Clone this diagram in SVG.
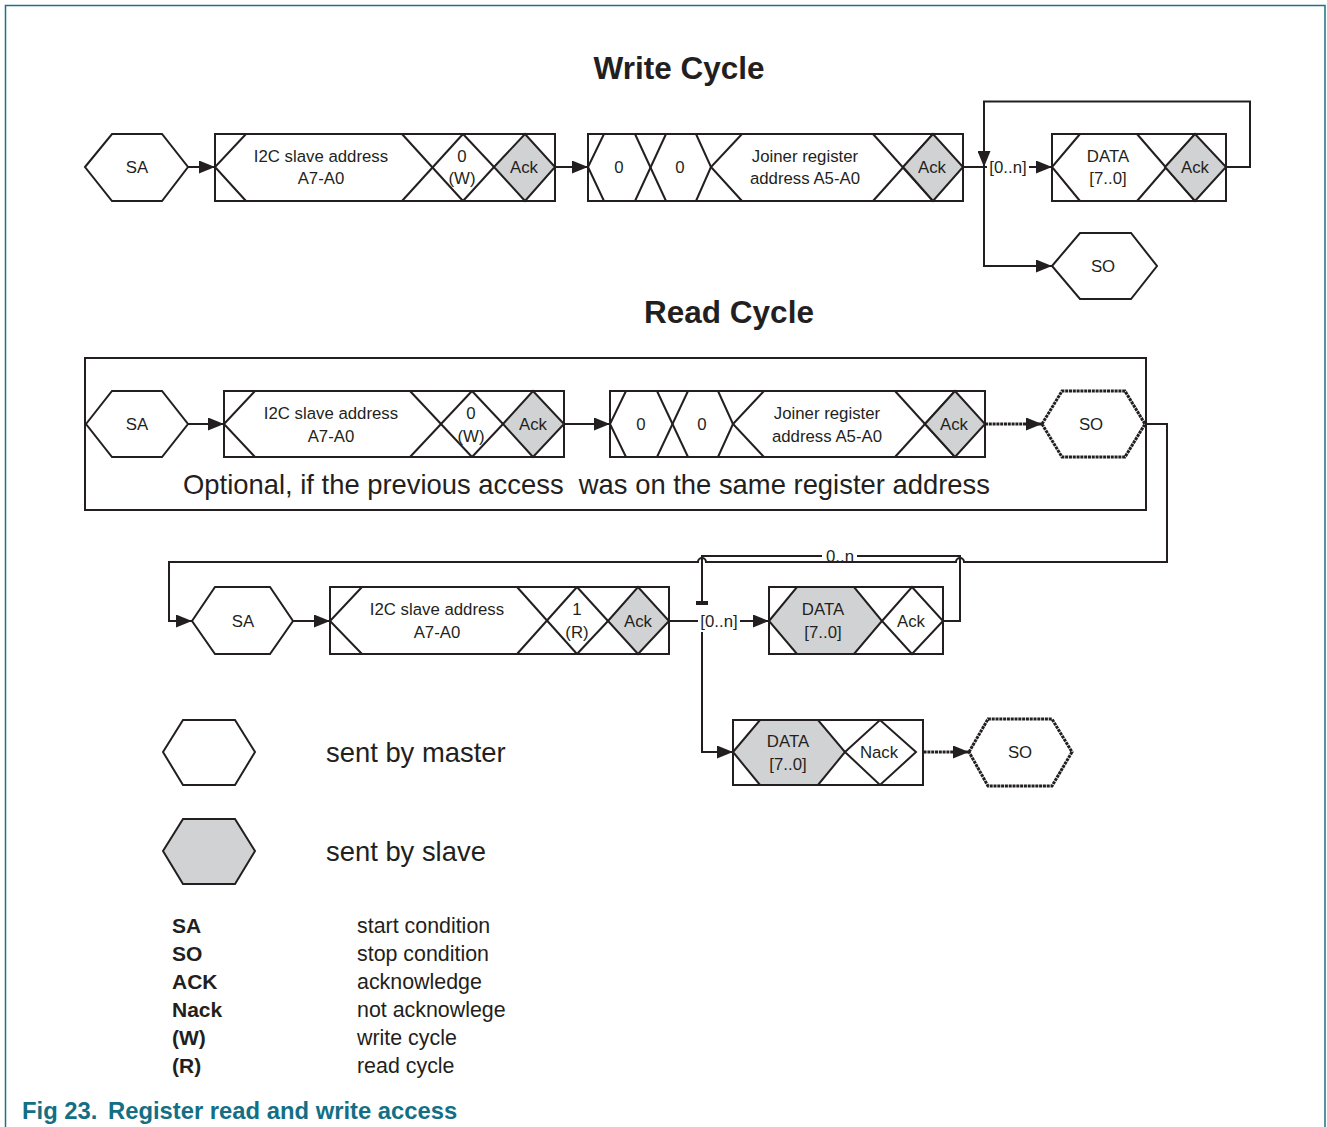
<svg xmlns="http://www.w3.org/2000/svg" width="1327" height="1127" viewBox="0 0 1327 1127">
<style>
text{font-family:"Liberation Sans",Arial,sans-serif;fill:#231f20}
.t{font-size:16.8px;text-anchor:middle}
.ttl{font-size:31.5px;font-weight:bold;text-anchor:middle}
.big{font-size:27.4px;white-space:pre}
.lg{font-size:21.4px}
.lgb{font-size:21px;font-weight:bold}
.cap{font-size:23.8px;font-weight:bold;fill:#126f85}
.box{fill:#fff;stroke:#231f20;stroke-width:2}
.ln{fill:none;stroke:#231f20;stroke-width:2}
.gr{fill:#d1d2d4;stroke:#231f20;stroke-width:2}
.wh{fill:#fff;stroke:#231f20;stroke-width:2}
.dot{fill:#fff;stroke:#231f20;stroke-width:3;stroke-dasharray:3 0.8}
.dl{fill:none;stroke:#231f20;stroke-width:3;stroke-dasharray:3 0.8}
.c{fill:none;stroke:#231f20;stroke-width:2}
</style>
<defs>
<marker id="ah" markerUnits="userSpaceOnUse" markerWidth="16" markerHeight="13" refX="16" refY="6.5" orient="auto"><path d="M0,0 L16,6.5 L0,13 z" fill="#231f20"/></marker>
</defs>
<rect x="0" y="0" width="1327" height="1127" fill="#fff"/>
<path d="M5.5,1127 V5.5 H1325 V1127" fill="none" stroke="#1f7184" stroke-width="1.5"/>

<text class="ttl" x="679" y="79">Write Cycle</text>
<text class="ttl" x="729" y="323">Read Cycle</text>

<g id="connectors">
<line class="c" x1="188" y1="167" x2="215" y2="167" marker-end="url(#ah)"/>
<line class="c" x1="555" y1="167" x2="588" y2="167" marker-end="url(#ah)"/>
<line class="c" x1="963" y1="167" x2="987" y2="167"/>
<line class="c" x1="1029" y1="167" x2="1052" y2="167" marker-end="url(#ah)"/>
<polyline class="c" points="1226,167 1250,167 1250,101.5 984,101.5 984,167" marker-end="url(#ah)"/>
<polyline class="c" points="984,167 984,266 1052,266" marker-end="url(#ah)"/>
<text class="t" x="1008" y="173">[0..n]</text>

<line class="c" x1="188" y1="424" x2="224" y2="424" marker-end="url(#ah)"/>
<line class="c" x1="564" y1="424" x2="610" y2="424" marker-end="url(#ah)"/>
<line class="dl" x1="985" y1="424" x2="1042" y2="424" marker-end="url(#ah)"/>
<path class="c" d="M1145,424 H1167 V562 H964 A4,4 0 0 0 956,562 H706 A4,4 0 0 0 698,562 H169 V621 H192" marker-end="url(#ah)"/>

<line class="c" x1="293" y1="621" x2="330" y2="621" marker-end="url(#ah)"/>
<line class="c" x1="669" y1="621" x2="698" y2="621"/>
<line class="c" x1="740" y1="621" x2="769" y2="621" marker-end="url(#ah)"/>
<text class="t" x="719" y="627">[0..n]</text>
<path class="c" d="M943,621 H960 V556 H857 M822,556 H702 V602"/>
<rect x="696" y="601" width="12" height="4" fill="#231f20"/>
<text class="t" x="840" y="562">0..n</text>
<polyline class="c" points="702,632 702,752 733,752" marker-end="url(#ah)"/>
<line class="dl" x1="916" y1="752" x2="969" y2="752" marker-end="url(#ah)"/>
</g>

<g id="w-sa">
<polygon class="wh" points="85,167 112,134 162,134 188,167 162,201 112,201"/>
<text class="t" x="137" y="173">SA</text>
</g>
<g id="w-addr">
<rect class="box" x="215" y="134" width="340" height="67"/>
<polyline class="ln" points="246,134 215,167 246,201"/>
<line class="ln" x1="402" y1="134" x2="463" y2="201"/>
<line class="ln" x1="402" y1="201" x2="463" y2="134"/>
<line class="ln" x1="463" y1="134" x2="494" y2="167"/>
<line class="ln" x1="463" y1="201" x2="494" y2="167"/>
<polygon class="gr" points="494,167 525,134 555,167 525,201"/>
<text class="t" x="321" y="162">I2C slave address</text>
<text class="t" x="321" y="184">A7-A0</text>
<text class="t" x="462" y="162">0</text>
<text class="t" x="462" y="184">(W)</text>
<text class="t" x="524" y="173">Ack</text>
</g>
<g id="w-reg">
<rect class="box" x="588" y="134" width="375" height="67"/>
<polyline class="ln" points="604,134 588,167 604,201"/>
<line class="ln" x1="635" y1="134" x2="666" y2="201"/>
<line class="ln" x1="635" y1="201" x2="666" y2="134"/>
<polyline class="ln" points="696,134 711,167 696,201"/>
<polyline class="ln" points="742,134 711,167 742,201"/>
<line class="ln" x1="873" y1="134" x2="933" y2="201"/>
<line class="ln" x1="873" y1="201" x2="933" y2="134"/>
<polygon class="gr" points="903,167 933,134 963,167 933,201"/>
<text class="t" x="619" y="173">0</text>
<text class="t" x="680" y="173">0</text>
<text class="t" x="805" y="162">Joiner register</text>
<text class="t" x="805" y="184">address A5-A0</text>
<text class="t" x="932" y="173">Ack</text>
</g>
<g id="w-data">
<rect class="box" x="1052" y="134" width="174" height="67"/>
<polyline class="ln" points="1080,134 1052,167 1080,201"/>
<line class="ln" x1="1137" y1="134" x2="1195" y2="201"/>
<line class="ln" x1="1137" y1="201" x2="1195" y2="134"/>
<polygon class="gr" points="1165,167 1195,134 1226,167 1195,201"/>
<text class="t" x="1108" y="162">DATA</text>
<text class="t" x="1108" y="184">[7..0]</text>
<text class="t" x="1195" y="173">Ack</text>
</g>
<g id="w-so">
<polygon class="wh" points="1052,266 1080,233 1131,233 1157,266 1131,299 1080,299"/>
<text class="t" x="1103" y="272">SO</text>
</g>

<g id="r-optional">
<rect x="85" y="358" width="1061" height="152" fill="none" stroke="#231f20" stroke-width="2"/>
<text class="big" x="183" y="494" xml:space="preserve">Optional, if the previous access  was on the same register address</text>
</g>
<g id="r-sa1">
<polygon class="wh" points="86,424 112,391 162,391 188,424 162,457 112,457"/>
<text class="t" x="137" y="430">SA</text>
</g>
<g id="r-addr1">
<rect class="box" x="224" y="391" width="340" height="66"/>
<polyline class="ln" points="255,391 224,424 255,457"/>
<line class="ln" x1="410" y1="391" x2="472" y2="457"/>
<line class="ln" x1="410" y1="457" x2="472" y2="391"/>
<line class="ln" x1="472" y1="391" x2="503" y2="424"/>
<line class="ln" x1="472" y1="457" x2="503" y2="424"/>
<polygon class="gr" points="503,424 533,391 564,424 533,457"/>
<text class="t" x="331" y="419">I2C slave address</text>
<text class="t" x="331" y="442">A7-A0</text>
<text class="t" x="471" y="419">0</text>
<text class="t" x="471" y="442">(W)</text>
<text class="t" x="533" y="430">Ack</text>
</g>
<g id="r-reg">
<rect class="box" x="610" y="391" width="375" height="66"/>
<polyline class="ln" points="626,391 610,424 626,457"/>
<line class="ln" x1="657" y1="391" x2="688" y2="457"/>
<line class="ln" x1="657" y1="457" x2="688" y2="391"/>
<polyline class="ln" points="718,391 733,424 718,457"/>
<polyline class="ln" points="764,391 733,424 764,457"/>
<line class="ln" x1="895" y1="391" x2="955" y2="457"/>
<line class="ln" x1="895" y1="457" x2="955" y2="391"/>
<polygon class="gr" points="925,424 955,391 985,424 955,457"/>
<text class="t" x="641" y="430">0</text>
<text class="t" x="702" y="430">0</text>
<text class="t" x="827" y="419">Joiner register</text>
<text class="t" x="827" y="442">address A5-A0</text>
<text class="t" x="954" y="430">Ack</text>
</g>
<g id="r-so1">
<polygon class="dot" points="1042,424 1062,391 1125,391 1145,424 1125,457 1062,457"/>
<text class="t" x="1091" y="430">SO</text>
</g>

<g id="r-sa2">
<polygon class="wh" points="192,621 215,587 270,587 293,621 270,654 215,654"/>
<text class="t" x="243" y="627">SA</text>
</g>
<g id="r-addr2">
<rect class="box" x="330" y="587" width="339" height="67"/>
<polyline class="ln" points="362,587 330,621 362,654"/>
<line class="ln" x1="517" y1="587" x2="577" y2="654"/>
<line class="ln" x1="517" y1="654" x2="577" y2="587"/>
<line class="ln" x1="577" y1="587" x2="608" y2="621"/>
<line class="ln" x1="577" y1="654" x2="608" y2="621"/>
<polygon class="gr" points="608,621 638,587 669,621 638,654"/>
<text class="t" x="437" y="615">I2C slave address</text>
<text class="t" x="437" y="638">A7-A0</text>
<text class="t" x="577" y="615">1</text>
<text class="t" x="577" y="638">(R)</text>
<text class="t" x="638" y="627">Ack</text>
</g>
<g id="r-data1">
<rect class="box" x="769" y="587" width="174" height="67"/>
<polygon class="gr" points="769,621 797,587 854,587 882,621 854,654 797,654"/>
<polygon class="wh" points="882,621 912,587 943,621 912,654"/>
<text class="t" x="823" y="615">DATA</text>
<text class="t" x="823" y="638">[7..0]</text>
<text class="t" x="911" y="627">Ack</text>
</g>
<g id="r-data2">
<rect class="box" x="733" y="720" width="190" height="65"/>
<polygon class="gr" points="733,752 760,720 818,720 845,752 818,785 760,785"/>
<polygon class="wh" points="845,752 880,720 916,752 880,785"/>
<text class="t" x="788" y="747">DATA</text>
<text class="t" x="788" y="770">[7..0]</text>
<text class="t" x="879" y="758">Nack</text>
</g>
<g id="r-so2">
<polygon class="dot" points="969,752 988,719 1052,719 1072,752 1052,786 988,786"/>
<text class="t" x="1020" y="758">SO</text>
</g>

<g id="legend-master">
<polygon class="wh" points="163,752 183,720 235,720 255,752 235,785 183,785"/>
<text class="big" x="326" y="762">sent by master</text>
</g>
<g id="legend-slave">
<polygon class="gr" points="163,851 183,819 235,819 255,851 235,884 183,884"/>
<text class="big" x="326" y="861">sent by slave</text>
</g>
<g id="legend-table">
<text class="lgb" x="172" y="933">SA</text>
<text class="lgb" x="172" y="961">SO</text>
<text class="lgb" x="172" y="989">ACK</text>
<text class="lgb" x="172" y="1017">Nack</text>
<text class="lgb" x="172" y="1045">(W)</text>
<text class="lgb" x="172" y="1073">(R)</text>
<text class="lg" x="357" y="933">start condition</text>
<text class="lg" x="357" y="961">stop condition</text>
<text class="lg" x="357" y="989">acknowledge</text>
<text class="lg" x="357" y="1017">not acknowlege</text>
<text class="lg" x="357" y="1045">write cycle</text>
<text class="lg" x="357" y="1073">read cycle</text>
</g>
<text class="cap" x="22" y="1119">Fig 23.</text>
<text class="cap" x="108" y="1119">Register read and write access</text>
</svg>
